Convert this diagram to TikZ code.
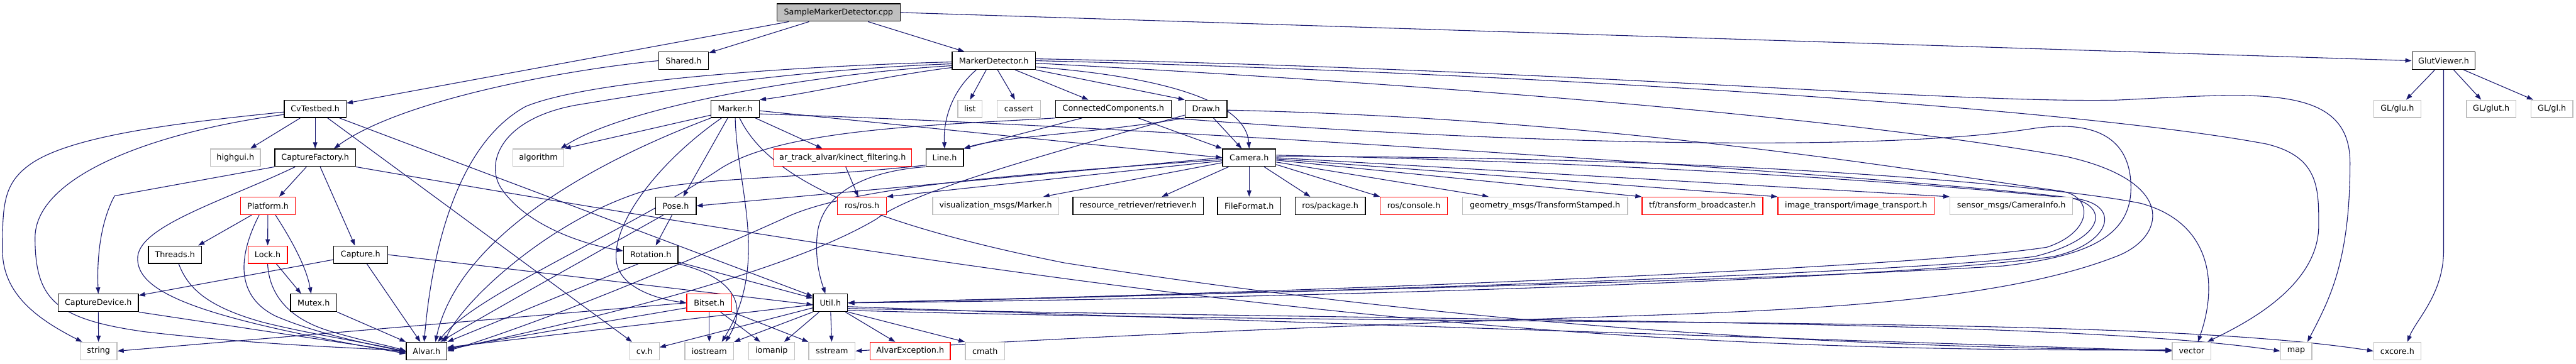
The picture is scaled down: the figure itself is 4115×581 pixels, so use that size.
\documentclass[tikz,border=0pt]{standalone}
\usepackage{fontspec}
\setmainfont{DejaVu Sans}
\usetikzlibrary{arrows.meta}
\definecolor{edgec}{HTML}{191970}
\definecolor{grayb}{HTML}{BFBFBF}
\pgfdeclarelayer{bg}
\pgfsetlayers{bg,main}
\begin{document}
\begin{tikzpicture}[x=1pt,y=-1pt,
  box/.style={draw, line width=1.3pt, fill=white, minimum height=28pt, inner sep=0pt, font=\fontsize{12.8}{14}\selectfont},
  doc/.style={box, draw=black},
  ext/.style={box, draw=grayb},
  trunc/.style={box, draw=red},
  root/.style={box, draw=black, fill=grayb},
  e/.style={draw=edgec, line width=1.1pt, -{Triangle[length=10pt,width=7pt]}},
]
\useasboundingbox (0,0) rectangle (4115,581);
% row 0
\node[root, minimum width=197pt] (smd) at (1339.5,20) {SampleMarkerDetector.cpp};
% row 1
\node[doc, minimum width=80pt] (shared) at (1092,97) {Shared.h};
\node[doc, minimum width=133pt] (md) at (1587.5,97) {MarkerDetector.h};
\node[doc, minimum width=101pt] (gv) at (3903.5,97) {GlutViewer.h};
% row 2
\node[doc, minimum width=99pt] (cvt) at (503.5,174) {CvTestbed.h};
\node[doc, minimum width=77pt] (marker) at (1174.5,174) {Marker.h};
\node[ext, minimum width=39pt] (list) at (1549.5,174) {list};
\node[ext, minimum width=69pt] (cassert) at (1627.5,174) {cassert};
\node[doc, minimum width=185pt] (cc) at (1778.5,174) {ConnectedComponents.h};
\node[doc, minimum width=67pt] (draw) at (1926.5,174) {Draw.h};
\node[ext, minimum width=75pt] (glu) at (3829.5,174) {GL/glu.h};
\node[ext, minimum width=79pt] (glglut) at (3979.5,174) {GL/glut.h};
\node[ext, minimum width=67pt] (gl) at (4076.5,174) {GL/gl.h};
% row 3
\node[ext, minimum width=80pt] (highgui) at (376,252) {highgui.h};
\node[doc, minimum width=129pt] (cf) at (503.5,252) {CaptureFactory.h};
\node[ext, minimum width=82pt] (algorithm) at (860,252) {algorithm};
\node[trunc, minimum width=220pt] (kinect) at (1346,252) {ar\_track\_alvar/kinect\_filtering.h};
\node[doc, minimum width=60pt] (line) at (1509,252) {Line.h};
\node[doc, minimum width=85pt] (camera) at (1995.5,252) {Camera.h};
% row 4
\node[trunc, minimum width=88pt] (platform) at (428,329) {Platform.h};
\node[doc, minimum width=65pt] (pose) at (1079.5,329) {Pose.h};
\node[trunc, minimum width=78pt] (ros) at (1377,329) {ros/ros.h};
\node[ext, minimum width=201pt] (vis) at (1590.5,329) {visualization\_msgs/Marker.h};
\node[doc, minimum width=208pt] (resource) at (1818,329) {resource\_retriever/retriever.h};
\node[doc, minimum width=101pt] (fileformat) at (1995.5,329) {FileFormat.h};
\node[doc, minimum width=112pt] (package) at (2125,329) {ros/package.h};
\node[trunc, minimum width=107pt] (console) at (2258.5,329) {ros/console.h};
\node[ext, minimum width=264pt] (geometry) at (2468,329) {geometry\_msgs/TransformStamped.h};
\node[trunc, minimum width=193pt] (tf) at (2719.5,329) {tf/transform\_broadcaster.h};
\node[trunc, minimum width=250pt] (imgtr) at (2965,329) {image\_transport/image\_transport.h};
\node[ext, minimum width=196pt] (sensor) at (3213,329) {sensor\_msgs/CameraInfo.h};
% row 5
\node[doc, minimum width=85pt] (threads) at (279.5,407) {Threads.h};
\node[trunc, minimum width=63pt] (lock) at (427.5,407) {Lock.h};
\node[doc, minimum width=86pt] (capture) at (576,407) {Capture.h};
\node[doc, minimum width=87pt] (rotation) at (1039.5,407) {Rotation.h};
% row 6
\node[doc, minimum width=128pt] (capdev) at (157,484) {CaptureDevice.h};
\node[doc, minimum width=74pt] (mutex) at (501,484) {Mutex.h};
\node[trunc, minimum width=72pt] (bitset) at (1133,484) {Bitset.h};
\node[doc, minimum width=55pt] (util) at (1326.5,484) {Util.h};
% row 7
\node[ext, minimum width=59pt] (string) at (157.5,561) {string};
\node[doc, minimum width=65pt] (alvar) at (681.5,561) {Alvar.h};
\node[ext, minimum width=47pt] (cvh) at (1029.5,561) {cv.h};
\node[ext, minimum width=78pt] (iostream) at (1133,561) {iostream};
\node[ext, minimum width=73pt] (iomanip) at (1232.5,561) {iomanip};
\node[ext, minimum width=74pt] (sstream) at (1329,561) {sstream};
\node[trunc, minimum width=128pt] (alvarexc) at (1454,561) {AlvarException.h};
\node[ext, minimum width=63pt] (cmath) at (1573.5,561) {cmath};
\node[ext, minimum width=62pt] (vector) at (3501,561) {vector};
\node[ext, minimum width=50pt] (map) at (3668,561) {map};
\node[ext, minimum width=75pt] (cxcore) at (3829.5,561) {cxcore.h};

\begin{pgfonlayer}{bg}
% SampleMarkerDetector.cpp
\draw[e] (smd) -- (cvt);
\draw[e] (smd) -- (shared);
\draw[e] (smd) -- (md);
\draw[e] (smd.east) -- (gv.west);
% Shared.h
\draw[e] (shared.west) .. controls (900,112) and (640,160) .. ([xshift=30pt]cf.north);
% MarkerDetector.h
\draw[e] ([yshift=-2pt]md.west) .. controls (1300,105) and (950,125) .. (840,170) .. controls (730,230) and (690,400) .. ([xshift=-4pt]alvar.north);
\draw[e] ([yshift=-5pt]md.west) .. controls (1250,112) and (1030,150) .. (920,168) .. controls (800,190) and (775,260) .. (800,300) .. controls (840,360) and (930,390) .. ([yshift=6pt]rotation.west);
\draw[e] ([yshift=-8pt]md.west) .. controls (1300,118) and (1000,170) .. ([xshift=-6pt]algorithm.north east);
\draw[e] ([yshift=-11pt]md.west) .. controls (1420,120) and (1290,150) .. (marker.north east);
\draw[e] ([xshift=-28pt]md.south) .. controls (1515,150) and (1507,200) .. (line.north);
\draw[e] ([xshift=-12pt]md.south) -- (list.north);
\draw[e] ([xshift=6pt]md.south) -- ([xshift=-6pt]cassert.north);
\draw[e] ([xshift=34pt]md.south) -- ([xshift=-40pt]cc.north);
\draw[e] (md.south east) -- (draw.north west);
\draw[e] ([yshift=-10pt]md.east) .. controls (1850,122) and (1990,160) .. (camera.north);
\draw[e] ([yshift=3pt]md.east) .. controls (2500,110) and (3100,165) .. (3380,160) .. controls (3600,150) and (3754,130) .. (3754,260) .. controls (3754,420) and (3720,480) .. ([xshift=18pt]map.north);
\draw[e] (md.east) .. controls (2400,115) and (3300,170) .. (3620,230) .. controls (3704,250) and (3704,300) .. (3704,360) .. controls (3704,460) and (3580,520) .. ([xshift=25pt]vector.north);
\draw[e] ([yshift=-4pt]md.east) .. controls (2200,130) and (2900,180) .. (3300,250) .. controls (3480,290) and (3460,380) .. (3380,410) .. controls (3200,480) and (2900,495) .. (2600,505) .. controls (2000,525) and (1600,545) .. (sstream.east);
% CvTestbed.h
\draw[e] ([yshift=-5pt]cvt.west) .. controls (300,195) and (110,215) .. (45,265) .. controls (5,295) and (4,330) .. (4,400) .. controls (4,470) and (60,510) .. ([xshift=4pt]string.north west);
\draw[e] ([yshift=-9pt]cvt.west) .. controls (250,210) and (56,280) .. (56,380) .. controls (56,480) and (90,510) .. (230,530) .. controls (420,552) and (560,555) .. (alvar.west);
\draw[e] (cvt) -- (highgui);
\draw[e] (cvt) -- (cf);
\draw[e] (cvt) -- (cvh);
\draw[e] (cvt) -- (util);
% CaptureFactory.h
\draw[e] (cf.south west) -- (183,313) .. controls (158,360) and (155,420) .. (capdev.north);
\draw[e] ([xshift=-32pt]cf.south) .. controls (360,320) and (225,360) .. (220,410) .. controls (215,470) and (330,510) .. ([yshift=-4pt]alvar.west);
\draw[e] ([xshift=-14pt]cf.south) -- ([xshift=18pt]platform.north);
\draw[e] ([xshift=8pt]cf.south) -- ([xshift=-9pt]capture.north);
\draw[e] (cf.south east) .. controls (1800,480) and (2500,565) .. ([yshift=2pt]vector.west);
% Capture.h
\draw[e] (capture) -- (capdev);
\draw[e] (capture) -- (alvar);
\draw[e] (capture.east) -- ([yshift=-3pt]util.west);
% CaptureDevice.h
\draw[e] (capdev) -- (string);
\draw[e] (capdev.south east) -- ([yshift=-2pt]alvar.west);
% Platform.h
\draw[e] ([xshift=-26pt]platform.south) -- ([xshift=-6pt]threads.north east);
\draw[e] ([xshift=-14pt]platform.south) .. controls (385,400) and (370,470) .. (440,505) .. controls (510,535) and (600,552) .. ([yshift=-1pt]alvar.west);
\draw[e] (platform) -- (lock);
\draw[e] ([xshift=12pt]platform.south) .. controls (470,390) and (490,430) .. ([xshift=-4pt]mutex.north);
% Threads.h, Lock.h, Mutex.h
\draw[e] ([xshift=6pt]threads.south) .. controls (300,460) and (330,490) .. (420,515) .. controls (500,535) and (600,550) .. ([yshift=-1pt]alvar.west);
\draw[e] (lock.south) .. controls (430,470) and (460,510) .. (530,530) .. controls (580,545) and (620,552) .. (alvar.west);
\draw[e] ([xshift=14pt]lock.south) -- ([xshift=-20pt]mutex.north);
\draw[e] (mutex.south east) -- (alvar.north west);
% Marker.h
\draw[e] ([yshift=-10pt]marker.west) -- (algorithm.north east);
\draw[e] (marker.south west) .. controls (920,270) and (730,390) .. ([xshift=14pt]alvar.north);
\draw[e] ([xshift=-22pt]marker.south) .. controls (1050,260) and (975,360) .. (985,420) .. controls (992,460) and (1050,478) .. (bitset.west);
\draw[e] ([xshift=-12pt]marker.south) -- ([xshift=12pt]pose.north);
\draw[e] (marker.south) .. controls (1177,300) and (1230,420) .. ([xshift=20pt]iostream.north);
\draw[e] ([xshift=7pt]marker.south) .. controls (1230,290) and (1400,360) .. (1700,420) .. controls (2400,530) and (3000,555) .. ([yshift=1pt]vector.west);
\draw[e] (marker) -- (kinect);
\draw[e] ([yshift=-3pt]marker.east) -- (camera.west);
\draw[e] ([yshift=-8pt]marker.east) .. controls (1800,200) and (3000,280) .. (3300,315) .. controls (3370,325) and (3370,380) .. (3250,410) .. controls (3000,440) and (2000,470) .. (util.east);
% kinect
\draw[e] ([xshift=5pt]kinect.south) -- ([xshift=-6pt]ros.north);
% Pose.h
\draw[e] ([xshift=-20pt]pose.south) .. controls (960,400) and (780,500) .. ([xshift=22pt]alvar.north);
\draw[e] ([xshift=-6pt]pose.south) -- ([xshift=8pt]rotation.north);
% Rotation.h
\draw[e] ([xshift=-20pt]rotation.south) -- (alvar.north east);
\draw[e] (rotation) -- (util);
\draw[e] (rotation.south east) .. controls (1160,440) and (1200,480) .. ([xshift=26pt]iostream.north);
% Bitset.h
\draw[e] (bitset.west) -- (string.east);
\draw[e] ([yshift=-8pt]bitset.west) -- ([yshift=4pt]alvar.east);
\draw[e] (bitset) -- (iostream);
\draw[e] ([xshift=18pt]bitset.south) -- ([xshift=-18pt]iomanip.north);
\draw[e] (bitset.south east) -- (sstream.north west);
% Util.h
\draw[e] ([yshift=-3pt]util.west) -- ([yshift=6pt]alvar.east);
\draw[e] ([yshift=-8pt]util.west) -- ([yshift=6pt]cvh.east);
\draw[e] (util.south west) -- (iostream.north east);
\draw[e] ([xshift=-18pt]util.south) -- ([xshift=20pt]iomanip.north);
\draw[e] (util) -- (sstream);
\draw[e] ([xshift=24pt]util.south) -- ([xshift=-24pt]alvarexc.north);
\draw[e] (util.south east) -- (cmath.north west);
\draw[e] ([yshift=-6pt]util.east) .. controls (2200,520) and (3000,545) .. (vector.west);
\draw[e] ([yshift=-9pt]util.east) .. controls (2400,515) and (3300,510) .. (map.west);
\draw[e] ([yshift=-12pt]util.east) .. controls (2400,525) and (3400,500) .. (cxcore.west);
% Line.h
\draw[e] (line.south west) .. controls (1400,272) and (1310,300) .. (1305,380) .. controls (1302,420) and (1312,450) .. ([xshift=-8pt]util.north);
\draw[e] ([yshift=-12pt]line.west) .. controls (1300,284) and (1110,284) .. (1030,305) .. controls (880,350) and (740,480) .. ([xshift=28pt]alvar.north);
% Draw.h
\draw[e] (draw.south west) .. controls (1760,212) and (1600,218) .. (line.north east);
\draw[e] ([yshift=-10pt]draw.west) .. controls (1660,250) and (1460,305) .. (1400,350) .. controls (1250,440) and (900,520) .. ([yshift=2pt]alvar.east);
\draw[e] ([xshift=12pt]draw.south) -- ([xshift=-12pt]camera.north);
\draw[e] ([yshift=-2pt]draw.east) .. controls (2600,190) and (3100,280) .. (3290,305) .. controls (3345,312) and (3345,370) .. (3270,395) .. controls (3050,430) and (2000,470) .. (util.east);
% ConnectedComponents.h
\draw[e] (cc.south west) .. controls (1500,200) and (1250,205) .. (1150,270) .. controls (1000,370) and (760,470) .. ([xshift=18pt]alvar.north);
\draw[e] ([xshift=-50pt]cc.south) -- (line.north east);
\draw[e] ([xshift=40pt]cc.south) -- (camera.north west);
\draw[e] (cc.south east) .. controls (2400,230) and (3000,245) .. (3250,205) .. controls (3360,190) and (3404,230) .. (3404,300) .. controls (3404,380) and (3330,410) .. (3200,425) .. controls (2800,450) and (1900,470) .. (util.east);
% Camera.h
\draw[e] (camera.west) -- (pose.east);
\draw[e] ([yshift=-3pt]camera.west) .. controls (1600,280) and (1350,300) .. (1250,350) .. controls (1050,440) and (850,520) .. (alvar.east);
\draw[e] ([yshift=-5pt]camera.west) -- (ros.north east);
\draw[e] ([yshift=-8pt]camera.west) -- ([xshift=76pt]vis.north);
\draw[e] ([xshift=-33pt]camera.south) -- ([xshift=38pt]resource.north);
\draw[e] (camera) -- (fileformat);
\draw[e] ([xshift=24pt]camera.south) -- ([xshift=-32pt]package.north);
\draw[e] ([yshift=-11pt]camera.east) -- (console.north west);
\draw[e] ([yshift=-7pt]camera.east) -- ([xshift=-90pt]geometry.north);
\draw[e] ([yshift=-4pt]camera.east) -- (tf.north west);
\draw[e] ([yshift=-2pt]camera.east) -- (imgtr.north west);
\draw[e] (camera.east) -- (sensor.north west);
\draw[e] ([yshift=2pt]camera.east) .. controls (2800,250) and (3300,300) .. (3420,325) .. controls (3530,355) and (3545,450) .. ([xshift=10pt]vector.north);
\draw[e] ([yshift=4pt]camera.east) .. controls (2700,262) and (3150,300) .. (3320,318) .. controls (3390,330) and (3370,390) .. (3280,410) .. controls (3000,450) and (2000,478) .. (util.east);
% GlutViewer.h
\draw[e] (gv) -- (glu);
\draw[e] ([xshift=16pt]gv.south) -- ([xshift=-16pt]glglut.north);
\draw[e] ([xshift=32pt]gv.south) -- ([xshift=-30pt]gl.north);
\draw[e] (gv.south) -- (3903.5,400) .. controls (3903.5,470) and (3860,510) .. ([xshift=16pt]cxcore.north);
\end{pgfonlayer}
\end{tikzpicture}
\end{document}
